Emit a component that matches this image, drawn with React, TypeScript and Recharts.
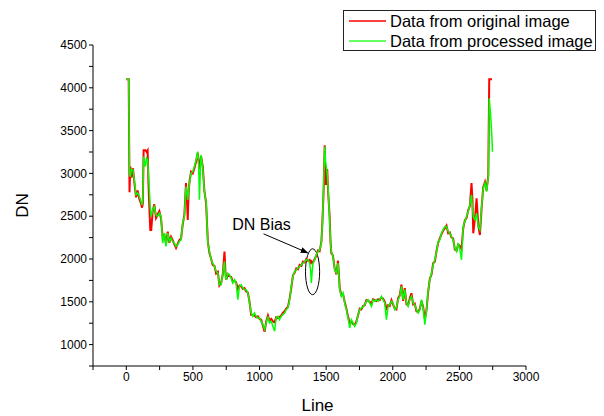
import { LineChart, Line, XAxis, YAxis, ReferenceArea } from 'recharts';

// line index (x) shared by both series
const LINE = [
  0, 18, 24, 30, 38, 50, 60, 73, 85, 98, 110, 118, 124, 130, 143, 152, 160, 166, 173, 180,
  187, 198, 210, 223, 235, 248, 261, 273, 286, 298, 311, 323, 336, 348, 361, 373, 386, 398, 411, 423,
  436, 448, 455, 461, 468, 474, 486, 499, 511, 524, 536, 543, 549, 555, 561, 574, 586, 599, 612, 624,
  637, 649, 662, 674, 687, 699, 712, 724, 737, 744, 750, 762, 774, 787, 799, 812, 824, 837, 849, 862,
  875, 887, 900, 912, 925, 937, 950, 962, 975, 987, 1000, 1012, 1025, 1038, 1050, 1063, 1075, 1088, 1100, 1113,
  1125, 1138, 1150, 1163, 1175, 1188, 1200, 1213, 1226, 1238, 1251, 1263, 1276, 1288, 1301, 1314, 1326, 1339, 1351, 1364,
  1376, 1384, 1389, 1395, 1401, 1414, 1426, 1439, 1451, 1464, 1471, 1481, 1489, 1495, 1501, 1508, 1514, 1526, 1533, 1539,
  1551, 1564, 1577, 1589, 1602, 1614, 1627, 1639, 1652, 1664, 1677, 1689, 1702, 1714, 1727, 1739, 1752, 1764, 1777, 1789,
  1802, 1815, 1827, 1840, 1852, 1865, 1877, 1890, 1902, 1915, 1927, 1940, 1952, 1965, 1977, 1990, 2002, 2015, 2027, 2040,
  2053, 2065, 2078, 2090, 2103, 2115, 2128, 2140, 2153, 2165, 2178, 2191, 2203, 2216, 2228, 2241, 2253, 2266, 2278, 2291,
  2303, 2316, 2329, 2341, 2353, 2366, 2378, 2391, 2403, 2416, 2428, 2441, 2453, 2466, 2479, 2491, 2504, 2516, 2529, 2541,
  2554, 2566, 2579, 2591, 2598, 2604, 2617, 2629, 2642, 2654, 2667, 2679, 2692, 2704, 2717, 2724, 2737, 2745, 2748,
];

// Data from original image (red)
const ORIGINAL = [
  4100, 4100, 2780, 3080, 2950, 3060, 2900, 2720, 2800, 2700, 2650, 2600, 2650, 3270, 3270, 3250, 3270, 2900, 2600, 2340,
  2340, 2560, 2640, 2480, 2520, 2560, 2470, 2250, 2280, 2180, 2320, 2190, 2260, 2220, 2170, 2130, 2180, 2220, 2240, 2400,
  2520, 2886, 2700, 2457, 2780, 2900, 3020, 3000, 3060, 3140, 3240, 3150, 3050, 3100, 3200, 3080, 2800, 2650, 2200, 2070,
  2000, 1930, 1920, 1830, 1850, 1690, 1720, 1820, 2088, 1850, 1760, 1810, 1800, 1790, 1740, 1740, 1730, 1650, 1690, 1680,
  1650, 1660, 1620, 1610, 1500, 1350, 1350, 1340, 1320, 1330, 1300, 1290, 1220, 1150, 1270, 1340, 1280, 1300, 1270, 1260,
  1320, 1310, 1320, 1340, 1370, 1390, 1420, 1440, 1540, 1660, 1810, 1840, 1890, 1880, 1930, 1920, 1970, 1960, 2000, 1980,
  1990, 1960, 1971, 1950, 1960, 2000, 2040, 2100, 2090, 2200, 2400, 2800, 3330, 2880, 2886, 3050, 2800, 2500, 2200, 2069,
  2040, 1890, 1820, 1980, 1660, 1580, 1590, 1500, 1420, 1330, 1250, 1270, 1240, 1230, 1270, 1340, 1420, 1410, 1450, 1460,
  1520, 1510, 1500, 1470, 1530, 1520, 1510, 1530, 1520, 1550, 1540, 1500, 1420, 1460, 1450, 1520, 1470, 1420, 1410, 1540,
  1580, 1700, 1510, 1660, 1470, 1460, 1540, 1600, 1470, 1480, 1390, 1380, 1420, 1510, 1440, 1300, 1400, 1620, 1770, 1820,
  1950, 1970, 2100, 2190, 2240, 2290, 2330, 2360, 2390, 2300, 2310, 2250, 2240, 2110, 2100, 2170, 2150, 2120, 2360, 2450,
  2480, 2570, 2620, 2886, 2700, 2300, 2470, 2710, 2390, 2280, 2600, 2840, 2900, 2800, 2980, 4100, 4100, 4100, null,
];

// Data from processed image (green)
const PROCESSED = [
  4100, 4100, 3000, 2960, 3050, 3040, 2925, 2750, 2770, 2730, 2670, 2630, 2700, 3196, 3080, 3180, 3158, 3000, 2807, 2600,
  2496, 2574, 2613, 2516, 2496, 2535, 2496, 2185, 2302, 2146, 2302, 2205, 2244, 2205, 2185, 2146, 2166, 2205, 2224, 2419,
  2496, 2846, 2780, 2691, 2800, 2886, 3002, 3021, 3080, 3158, 3255, 3100, 2691, 3000, 3216, 3060, 2787, 2671, 2185, 2088,
  1991, 1952, 1913, 1855, 1835, 1700, 1700, 1835, 1971, 1800, 1758, 1835, 1816, 1777, 1719, 1758, 1719, 1525, 1680, 1700,
  1661, 1641, 1641, 1603, 1486, 1369, 1330, 1369, 1330, 1311, 1311, 1272, 1233, 1175, 1253, 1330, 1253, 1272, 1214, 1156,
  1311, 1330, 1291, 1330, 1350, 1369, 1408, 1428, 1525, 1680, 1797, 1855, 1875, 1894, 1913, 1933, 1952, 1971, 1991, 1991,
  1952, 1860, 1719, 1850, 1952, 1991, 2049, 2088, 2108, 2185, 2380, 2846, 3313, 3150, 3080, 3000, 2846, 2458, 2185, 2088,
  2030, 1875, 1835, 1952, 1641, 1564, 1603, 1486, 1408, 1311, 1194, 1291, 1253, 1214, 1253, 1350, 1408, 1428, 1439, 1467,
  1506, 1525, 1486, 1447, 1525, 1506, 1525, 1506, 1525, 1564, 1525, 1486, 1291, 1447, 1467, 1506, 1486, 1408, 1428, 1525,
  1564, 1680, 1525, 1641, 1486, 1447, 1525, 1564, 1486, 1467, 1408, 1369, 1408, 1525, 1428, 1233, 1408, 1641, 1758, 1835,
  1933, 1991, 2088, 2205, 2224, 2302, 2341, 2380, 2380, 2322, 2302, 2263, 2224, 2127, 2088, 2185, 2108, 1991, 2380, 2438,
  2496, 2554, 2632, 2749, 2600, 2496, 2458, 2535, 2380, 2341, 2613, 2827, 2886, 2788, 2963, 3876, 3625, 3400, 3254,
];

const X_TICKS = [-250, 0, 250, 500, 750, 1000, 1250, 1500, 1750, 2000, 2250, 2500, 2750, 3000];
const Y_TICKS = [750, 1000, 1250, 1500, 1750, 2000, 2250, 2500, 2750, 3000, 3250, 3500, 3750, 4000, 4250, 4500];

const data = LINE.map((line, i) => ({ line, original: ORIGINAL[i], processed: PROCESSED[i] }));

const FONT = 'Arial, "Liberation Sans", sans-serif';
const tickStyle = { fontSize: 12, fill: '#000', fontFamily: FONT };

const Ellipse = (props: any) => {
  const { x, y, width, height } = props;
  return (
    <ellipse cx={x + width / 2} cy={y + height / 2} rx={width / 2} ry={height / 2}
      fill="none" stroke="#000" strokeWidth={1} />
  );
};

const Arrow = (props: any) => {
  const { x, y, width, height } = props;
  return (
    <g>
      <text x={x - 2} y={y - 4} textAnchor="middle" fontSize={16} fontFamily={FONT} fill="#000">DN Bias</text>
      <line x1={x} y1={y} x2={x + width} y2={y + height} stroke="#000" strokeWidth={1} markerEnd="url(#arrowhead)" />
    </g>
  );
};

export default function App() {
  return (
    <div style={{ position: 'absolute', left: 0, top: 0, width: 604, height: 416, background: '#fff' }}>
      <LineChart width={604} height={416} data={data} margin={{ top: 45, right: 78, bottom: 2, left: 0 }}>
        <defs>
          <marker id="arrowhead" markerWidth="8" markerHeight="6" refX="7" refY="3" orient="auto" markerUnits="userSpaceOnUse">
            <path d="M0,0 L8,3 L0,6 Z" fill="#000" />
          </marker>
        </defs>
        <XAxis
          dataKey="line"
          type="number"
          domain={[-250, 3000]}
          ticks={X_TICKS}
          interval={0}
          tickFormatter={(v: number) => (v % 500 === 0 ? String(v) : '')}
          tick={tickStyle}
          tickSize={4}
          stroke="#000"
          height={48}
          label={{
            content: ({ viewBox }: any) => (
              <text x={viewBox.x + viewBox.width / 2 + 8} y={viewBox.y + viewBox.height - 3}
                textAnchor="middle" fontSize={17} fontFamily={FONT} fill="#000">Line</text>
            ),
          }}
        />
        <YAxis
          type="number"
          domain={[750, 4500]}
          ticks={Y_TICKS}
          interval={0}
          tickFormatter={(v: number) => (v % 500 === 0 ? String(v) : '')}
          tick={tickStyle}
          tickSize={4}
          stroke="#000"
          width={93}
          label={{
            content: ({ viewBox }: any) => (
              <text x={0} y={0} transform={`translate(${viewBox.x + 22}, ${viewBox.y + viewBox.height / 2}) rotate(-90)`}
                textAnchor="middle" dominantBaseline="central" fontSize={17} fontFamily={FONT} fill="#000">DN</text>
            ),
          }}
        />
        <Line dataKey="original" stroke="#ff0000" strokeWidth={2} dot={false} isAnimationActive={false} type="linear" />
        <Line dataKey="processed" stroke="#00ff00" strokeWidth={1.5} dot={false} isAnimationActive={false} type="linear" />
        <ReferenceArea x1={1345} x2={1451} y1={1583} y2={2119} shape={<Ellipse />} />
        <ReferenceArea x1={1030} x2={1361} y1={2073} y2={2294} shape={<Arrow />} />
      </LineChart>
      <div style={{
        position: 'absolute', left: 343, top: 10, width: 251, height: 39, border: '1px solid #222',
        fontFamily: FONT, fontSize: 16.5, color: '#000', background: '#fff',
      }}>
        <svg width={44} height={39} style={{ position: 'absolute', left: 0, top: 0 }}>
          <line x1={5} x2={42} y1={10} y2={10} stroke="#ff0000" strokeWidth={1.6} />
          <line x1={5} x2={42} y1={30} y2={30} stroke="#33ff33" strokeWidth={1.6} />
        </svg>
        <div style={{ position: 'absolute', left: 46, top: 0, lineHeight: '20px', whiteSpace: 'nowrap' }}>Data from original image</div>
        <div style={{ position: 'absolute', left: 46, top: 20, lineHeight: '20px', whiteSpace: 'nowrap' }}>Data from processed image</div>
      </div>
    </div>
  );
}
